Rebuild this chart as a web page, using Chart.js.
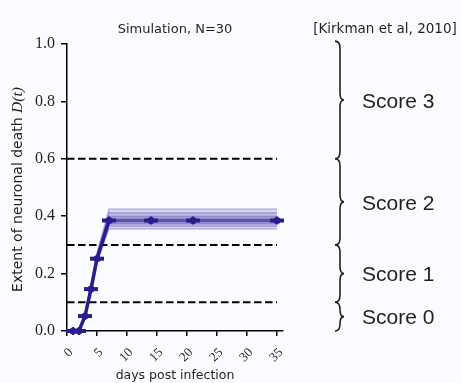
<!DOCTYPE html>
<html>
<head>
<meta charset="utf-8">
<script src="https://cdn.jsdelivr.net/npm/chart.js@4/dist/chart.umd.min.js"></script>
<style>
  html, body { margin: 0; padding: 0; background: #f9fbfe; }
  #c { display: block; }
</style>
</head>
<body>
<canvas id="c" width="461" height="383"></canvas>
<script>
// Simulated neuronal death over time (mean of N=30 runs) with spread bands
const days       = [1, 2, 3, 4, 5, 7, 14, 21, 35];
const meanDeath  = [0, 0, 0.052, 0.146, 0.252, 0.385, 0.385, 0.385, 0.385];

// percentile bands around the mean (outer, middle, inner)
const outerLo = [0, 0, 0.044, 0.136, 0.238, 0.355, 0.355, 0.355, 0.355];
const outerHi = [0.002, 0.004, 0.062, 0.160, 0.272, 0.425, 0.425, 0.425, 0.425];
const midLo   = [0, 0, 0.046, 0.139, 0.242, 0.365, 0.365, 0.365, 0.365];
const midHi   = [0.001, 0.003, 0.059, 0.156, 0.266, 0.412, 0.412, 0.412, 0.412];
const innerLo = [0, 0, 0.049, 0.142, 0.246, 0.374, 0.374, 0.374, 0.374];
const innerHi = [0, 0.002, 0.056, 0.151, 0.259, 0.399, 0.399, 0.399, 0.399];

// clinical score thresholds
const thresholds = [0.1, 0.3, 0.6];
const thresholdSpan = [0, 35];

// score brackets [low, high] and their labels
const scoreLabels = ['Score 3', 'Score 2', 'Score 1', 'Score 0'];
const scoreRanges = [[0.6, 1.01], [0.3, 0.6], [0.1, 0.3], [0, 0.1]];

const xTicks = [0, 5, 10, 15, 20, 25, 30, 35];
const yTicks = [0, 0.2, 0.4, 0.6, 0.8, 1.0];

const MARK = '#2a1b8f';
const MEAN = 'rgba(42, 27, 143, 0.6)';
const BAND = 'rgba(70, 58, 170, 0.18)';
const EDGE = 'rgba(60, 45, 160, 0.28)';
const INK = '#231f20';

const pts = arr => days.map((d, i) => ({ x: d, y: arr[i] }));

const bandPair = (lo, hi, ord) => [
  { data: pts(lo), borderColor: EDGE, borderWidth: 1.5, pointRadius: 0, fill: false, order: ord, clip: false },
  { data: pts(hi), borderColor: EDGE, borderWidth: 1.5, pointRadius: 0, fill: '-1', backgroundColor: BAND, order: ord, clip: false }
];

const thresholdSets = thresholds.map(t => ({
  data: thresholdSpan.map(x => ({ x, y: t })),
  borderColor: '#000',
  borderWidth: 2,
  borderDash: [7.5, 3.5],
  pointRadius: 0,
  fill: false,
  order: 2,
  clip: false
}));

const background = {
  id: 'background',
  beforeDraw(chart) {
    const ctx = chart.ctx;
    ctx.save();
    ctx.fillStyle = '#f9fbfe';
    ctx.fillRect(0, 0, chart.width, chart.height);
    ctx.restore();
  }
};

function drawBrace(ctx, x, yTop, yBot) {
  const mid = (yTop + yBot) / 2;
  const w = 5;
  const r = Math.min(7, (yBot - yTop) / 4);
  ctx.beginPath();
  ctx.moveTo(x - w, yTop);
  ctx.quadraticCurveTo(x, yTop, x, yTop + r);
  ctx.lineTo(x, mid - r);
  ctx.quadraticCurveTo(x, mid, x + w - 1, mid);
  ctx.quadraticCurveTo(x, mid, x, mid + r);
  ctx.lineTo(x, yBot - r);
  ctx.quadraticCurveTo(x, yBot, x - w, yBot);
  ctx.stroke();
}

const annotations = {
  id: 'annotations',
  afterDraw(chart) {
    const ctx = chart.ctx;
    const area = chart.chartArea;
    const y = chart.scales.y;
    ctx.save();
    ctx.fillStyle = INK;

    // panel title
    ctx.font = '13px "DejaVu Sans"';
    ctx.textAlign = 'center';
    ctx.textBaseline = 'middle';
    ctx.fillText('Simulation, N=30', (area.left + area.right) / 2, 30);

    // reference for the scoring scale
    ctx.font = '13.5px "DejaVu Sans"';
    ctx.fillText('[Kirkman et al, 2010]', 385, 29);

    // braces and score labels
    ctx.strokeStyle = INK;
    ctx.lineWidth = 1.6;
    ctx.font = '21px "Liberation Sans"';
    ctx.textAlign = 'left';
    scoreRanges.forEach(([lo, hi], i) => {
      const yTop = y.getPixelForValue(hi);
      const yBot = y.getPixelForValue(lo);
      drawBrace(ctx, 340, yTop, yBot);
      ctx.fillText(scoreLabels[i], 362, (yTop + yBot) / 2 + 2);
    });

    // y-axis title with italic math part
    const part1 = 'Extent of neuronal death ';
    const part2 = 'D(t)';
    const f1 = '14px "DejaVu Sans"';
    const f2 = 'italic 15.5px "Liberation Serif"';
    ctx.font = f1;
    const w1 = ctx.measureText(part1).width;
    ctx.font = f2;
    const w2 = ctx.measureText(part2).width;
    ctx.translate(18, (area.top + area.bottom) / 2 + 2);
    ctx.rotate(-Math.PI / 2);
    ctx.textBaseline = 'middle';
    ctx.font = f1;
    ctx.fillText(part1, -(w1 + w2) / 2, 0);
    ctx.font = f2;
    ctx.fillText(part2, -(w1 + w2) / 2 + w1, 0);
    ctx.restore();
  }
};

new Chart(document.getElementById('c'), {
  type: 'line',
  data: {
    datasets: [
      // markers: circle with horizontal and vertical bars
      { data: pts(meanDeath), showLine: false, pointStyle: 'line', pointRadius: 7,
        borderColor: MARK, pointBorderWidth: 4, order: 0, clip: false },
      { data: pts(meanDeath), showLine: false, pointStyle: 'line', pointRotation: 90, pointRadius: 4,
        borderColor: MARK, pointBorderWidth: 2, order: 0, clip: false },
      { data: pts(meanDeath), showLine: false, pointStyle: 'circle', pointRadius: 3.5,
        backgroundColor: MARK, borderColor: MARK, pointBorderWidth: 0, order: 0, clip: false },
      // mean trajectory: dark while rising, lighter along the plateau
      { data: pts(meanDeath), borderColor: MEAN, borderWidth: 3.5, pointRadius: 0,
        segment: { borderColor: c => (c.p0.parsed.y === c.p1.parsed.y && c.p0.parsed.y > 0 ? MEAN : MARK) },
        fill: false, order: 1, clip: false },
      ...thresholdSets,
      ...bandPair(innerLo, innerHi, 3),
      ...bandPair(midLo, midHi, 4),
      ...bandPair(outerLo, outerHi, 5)
    ]
  },
  options: {
    responsive: false,
    animation: false,
    events: [],
    layout: { padding: { left: 0, right: 178, top: 44, bottom: 0 } },
    plugins: { legend: { display: false }, tooltip: { enabled: false }, title: { display: false } },
    scales: {
      x: {
        type: 'linear',
        min: 0,
        max: 36,
        afterBuildTicks: s => { s.ticks = xTicks.map(v => ({ value: v })); },
        afterFit: s => { s.height = 52; },
        grid: { drawOnChartArea: false, drawTicks: true, tickLength: 5, color: '#000', lineWidth: 1.5 },
        border: { display: true, color: '#000', width: 1.5 },
        ticks: {
          font: { family: '"Liberation Serif"', size: 13 },
          color: INK,
          minRotation: 45,
          maxRotation: 45,
          padding: 9,
          labelOffset: 4,
          callback: v => String(v)
        },
        title: {
          display: true,
          text: 'days post infection',
          font: { family: '"DejaVu Sans"', size: 12.5 },
          color: INK,
          padding: { top: 0, bottom: 0 }
        }
      },
      y: {
        type: 'linear',
        min: 0,
        max: 1,
        afterBuildTicks: s => { s.ticks = yTicks.map(v => ({ value: v })); },
        afterFit: s => { s.width = 67; },
        grid: { drawOnChartArea: false, drawTicks: true, tickLength: 6, color: '#000', lineWidth: 1.5 },
        border: { display: true, color: '#000', width: 1.5 },
        ticks: {
          font: { family: '"Liberation Serif"', size: 16 },
          color: INK,
          padding: 6,
          callback: v => v.toFixed(1)
        }
      }
    }
  },
  plugins: [background, annotations]
});
</script>
</body>
</html>
